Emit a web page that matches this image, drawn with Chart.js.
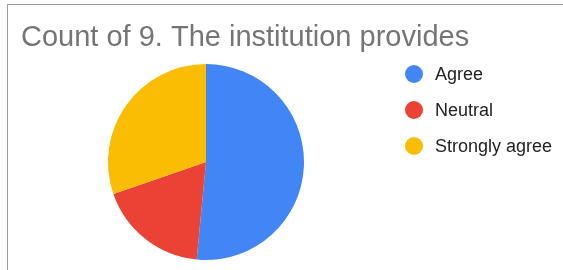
<!DOCTYPE html>
<html lang="en">
<head>
    <meta charset="UTF-8">
    <title>Count of 9</title>
    <style>
        body { margin: 0; background: #fff; }
        #wrap { position: relative; width: 563px; height: 270px; }
        #frame { position: absolute; left: 7px; top: 4px; right: 0; bottom: 0; border-top: 1.5px solid #9e9e9e; border-left: 1.5px solid #9e9e9e; }
    </style>
</head>
<body>
<script src="https://cdn.jsdelivr.net/npm/chart.js"></script>
<div id="wrap">
  <canvas id="myChart" width="563" height="270"></canvas>
  <div id="frame"></div>
</div>
    <script>
        var title = 'Count of 9. The institution provides'
        var labels = ['Agree', 'Neutral', 'Strongly agree']
        var counts = [17, 6, 10]
        var colors = ['#4285f4', '#ea4335', '#fbbc04']

        // title + legend drawn by hand to match the sheets look
        const sheetBits = {
          id: 'sheetBits',
          afterDraw(chart) {
            var ctx = chart.ctx
            ctx.save()
            ctx.fillStyle = '#757575'
            ctx.font = '29px "Liberation Sans", Arial, sans-serif'
            ctx.textBaseline = 'alphabetic'
            ctx.fillText(title, 21, 46)
            ctx.font = '18px "Liberation Sans", Arial, sans-serif'
            ctx.textBaseline = 'middle'
            for (var i = 0; i < labels.length; i++) {
              var y = 74 + i * 36
              ctx.fillStyle = colors[i]
              ctx.beginPath()
              ctx.arc(414, y, 9, 0, Math.PI * 2)
              ctx.fill()
              ctx.fillStyle = '#222222'
              ctx.fillText(labels[i], 435, y + 1)
            }
            ctx.restore()
          }
        }

        const data = {
          labels: labels,
          datasets: [{
            data: counts,
            backgroundColor: colors,
            borderWidth: 0
          }]
        };

        const config = {
          type: 'pie',
          data,
          options: {
            responsive: false,
            animation: false,
            layout: { padding: { left: 108, right: 259, top: 64, bottom: 10 } },
            plugins: {
              legend: { display: false },
              tooltip: { enabled: false }
            }
          },
          plugins: [sheetBits]
        };

        var myChart = new Chart(
            document.getElementById('myChart'),
            config
        );
    </script>
</body>
</html>
